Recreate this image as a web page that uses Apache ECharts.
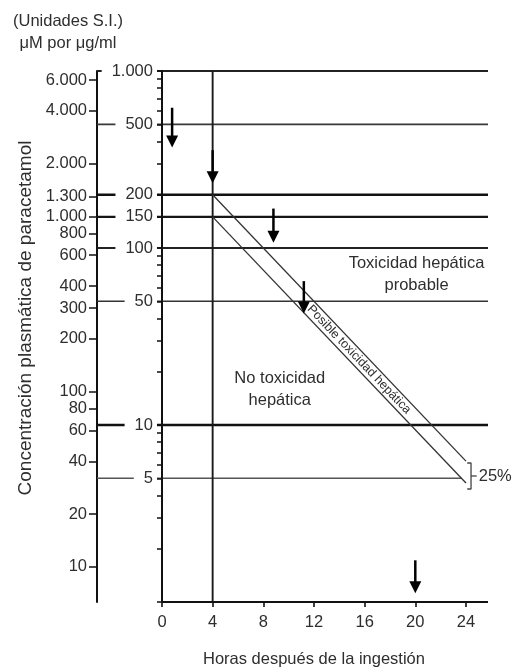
<!DOCTYPE html>
<html><head><meta charset="utf-8">
<script src="https://cdn.jsdelivr.net/npm/echarts@6/dist/echarts.min.js"></script>
<style>html,body{margin:0;padding:0;background:#fff}#c{width:513px;height:671px}</style>
</head><body><div id="c"></div>
<script>
// ---------- data ----------
const hourTicks = [0, 4, 8, 12, 16, 20, 24];
const ugmlLabelTicks = [5, 10, 50, 100, 150, 200, 500, 1000];
const ugmlTicks = [1, 2, 3, 4, 5, 6, 7, 8, 9, 10, 20, 30, 40, 50, 60, 70, 80, 90, 100, 150, 200, 300, 400, 500, 600, 700, 800, 900, 1000];
const umolTicks = [10, 20, 40, 60, 80, 100, 200, 300, 400, 600, 800, 1000, 1300, 2000, 4000, 6000];
const levelLines = [1000, 500, 200, 150, 100, 50, 10, 5];          // μg/ml reference lines
const probableLine = [[4, 200], [24, 6.25]];                        // [hour, μg/ml]
const possibleLine = [[4, 150], [24, 4.7]];                         // [hour, μg/ml]
const startLineHour = 4;
const arrows = [[0.8, 620, 370], [4, 357, 232], [8.8, 167, 107], [11.2, 65, 42.6], [20, 1.72, 1.12]]; // [hour, from, tip]
const bracketValues = [6.1, 4.35];                                  // μg/ml span of the 25% bracket
const yRange = [1, 1000];                                           // μg/ml
const umolRange = [6.3, 6750];                                      // μM scale as drawn alongside

// ---------- layout / style ----------
const X_MIN = -5.13, X_MAX = 25.74;
const FONT = '"Liberation Sans", Arial, Helvetica, sans-serif';
const TXT = '#2e2e2e';
const levelStyle = {
  1000: [2.0, '#222'], 500: [1.7, '#383838'], 200: [2.4, '#111'], 150: [2.3, '#151515'],
  100: [1.9, '#222'], 50: [1.6, '#333'], 10: [2.6, '#111'], 5: [1.6, '#555']
};
const lg = v => Math.log10(v);
const fmt = n => String(n).replace(/\B(?=(\d{3})+(?!\d))/g, '.');

function hourAt(line, v) {
  const [[t0, v0], [t1, v1]] = line;
  return t0 + (t1 - t0) * (lg(v0) - lg(v)) / (lg(v0) - lg(v1));
}
function valueAt(line, t) {
  const [[t0, v0], [t1, v1]] = line;
  return Math.pow(10, lg(v0) + (lg(v1) - lg(v0)) * (t - t0) / (t1 - t0));
}
const lowEnd = Math.min(possibleLine[1][1], probableLine[1][1]);
const highEnd = Math.max(possibleLine[1][1], probableLine[1][1]);

const chart = echarts.init(document.getElementById('c'), null, {renderer: 'canvas'});

const series = [];
levelLines.forEach(v => {
  const end = (v >= lowEnd && v <= highEnd) ? hourAt(possibleLine, v) : X_MAX;
  series.push({
    type: 'line', xAxisIndex: 0, yAxisIndex: 0, z: 1, silent: true, symbol: 'none', clip: false,
    data: [[X_MIN, lg(v)], [end, lg(v)]],
    lineStyle: {width: levelStyle[v][0], color: levelStyle[v][1]}
  });
});
series.push({
  type: 'line', yAxisIndex: 0, z: 1, silent: true, symbol: 'none', clip: false,
  data: [[startLineHour, lg(yRange[0])], [startLineHour, lg(yRange[1])]],
  lineStyle: {width: 1.9, color: '#1a1a1a'}
});
[probableLine, possibleLine].forEach(line => series.push({
  type: 'line', yAxisIndex: 0, z: 1, silent: true, symbol: 'none', clip: false,
  data: line.map(p => [p[0], lg(p[1])]),
  lineStyle: {width: 1.3, color: '#333'}
}));
// x baseline from hour 0
series.push({
  type: 'line', yAxisIndex: 0, z: 1, silent: true, symbol: 'none', clip: false,
  data: [[0, lg(yRange[0])], [X_MAX, lg(yRange[0])]],
  lineStyle: {width: 2, color: '#111'}
});
// bracket 25%
const bx0 = Math.max(probableLine[1][0], possibleLine[1][0]) + 0.1;
const bx1 = bx0 + 0.3, bx2 = bx1 + 0.45;
const bMid = Math.sqrt(bracketValues[0] * bracketValues[1]);
series.push({
  type: 'line', yAxisIndex: 0, z: 1, silent: true, symbol: 'none', clip: false,
  data: [[bx0, lg(bracketValues[0])], [bx1, lg(bracketValues[0])], [bx1, lg(bracketValues[1])], [bx0, lg(bracketValues[1])]],
  lineStyle: {width: 1.3, color: '#444'}
});
series.push({
  type: 'line', yAxisIndex: 0, z: 1, silent: true, symbol: 'none', clip: false,
  data: [[bx1, lg(bMid)], [bx2, lg(bMid)]],
  lineStyle: {width: 1.3, color: '#444'}
});
// arrows
series.push({
  type: 'custom', yAxisIndex: 0, z: 3, silent: true, clip: false,
  data: arrows.map(a => [a[0], lg(a[1]), lg(a[2])]),
  encode: {x: 0, y: [1, 2]},
  renderItem(params, api) {
    const top = api.coord([api.value(0), api.value(1)]);
    const tip = api.coord([api.value(0), api.value(2)]);
    const hw = 6, hh = 12;
    return {type: 'group', children: [
      {type: 'line', shape: {x1: top[0], y1: top[1], x2: tip[0], y2: tip[1] - hh + 1}, style: {stroke: '#000', lineWidth: 2.5}},
      {type: 'polygon', shape: {points: [[tip[0] - hw, tip[1] - hh], [tip[0] + hw, tip[1] - hh], [tip[0], tip[1]]]}, style: {fill: '#000'}}
    ]};
  }
});

const option = {
  animation: false,
  backgroundColor: '#fff',
  textStyle: {fontFamily: FONT},
  grid: {left: 97, right: 25, top: 71, bottom: 69, containLabel: false, outerBoundsMode: 'none'},
  xAxis: {
    type: 'value', min: X_MIN, max: X_MAX, position: 'bottom',
    axisLine: {show: false, onZero: false},
    splitLine: {show: false},
    axisTick: {show: true, customValues: hourTicks, length: 5, inside: false, lineStyle: {color: '#111', width: 1.6}},
    axisLabel: {customValues: hourTicks, margin: 12, color: TXT, fontSize: 16.5, fontFamily: FONT}
  },
  yAxis: [
    {
      type: 'value', min: lg(yRange[0]), max: lg(yRange[1]), position: 'left', z: 5, offset: 0,
      axisLine: {show: true, onZero: false, lineStyle: {color: '#111', width: 2}},
      splitLine: {show: false},
      axisTick: {show: true, customValues: ugmlTicks.map(lg), length: 5, inside: false, lineStyle: {color: '#111', width: 1.5}},
      axisLabel: {
        customValues: ugmlLabelTicks.map(lg), margin: 5, color: TXT, fontSize: 16.5, fontFamily: FONT,
        backgroundColor: '#fff', padding: [1, 4, 1, 10],
        formatter: v => fmt(Math.round(Math.pow(10, v)))
      }
    },
    {
      type: 'value', min: lg(umolRange[0]), max: lg(umolRange[1]), position: 'left', offset: 0,
      axisLine: {show: true, onZero: false, lineStyle: {color: '#111', width: 2}},
      splitLine: {show: false},
      axisTick: {show: true, customValues: umolTicks.map(lg), length: 8, inside: false, lineStyle: {color: '#111', width: 1.5}},
      axisLabel: {
        customValues: umolTicks.map(lg), margin: 10, color: TXT, fontSize: 16.5, fontFamily: FONT,
        formatter: v => fmt(Math.round(Math.pow(10, v)))
      }
    }
  ],
  series
};
chart.setOption(option);

// place the μg/ml axis on hour 0, measured through the x scale
const zeroX = chart.convertToPixel({xAxisIndex: 0}, 0);
const leftX = chart.convertToPixel({xAxisIndex: 0}, X_MIN);
chart.setOption({yAxis: [{offset: -(zeroX - leftX)}, {}]});

// ---------- text annotations placed through the chart's own scales ----------
const P = (h, v) => chart.convertToPixel({seriesIndex: 0}, [h, lg(v)]);
const txt = (x, y, text, size, extra) => Object.assign({
  type: 'text', x, y, silent: true, z: 10,
  style: {text, fill: TXT, font: size + 'px ' + FONT, textAlign: 'center', textVerticalAlign: 'middle', align: 'center', verticalAlign: 'middle', lineHeight: 22}
}, extra || {});

const a0 = P(probableLine[0][0], probableLine[0][1]);
const a1 = P(probableLine[1][0], probableLine[1][1]);
const angle = Math.atan2(a1[1] - a0[1], a1[0] - a0[0]);
const bandHour = 15.55;
const bandVal = Math.sqrt(valueAt(probableLine, bandHour) * valueAt(possibleLine, bandHour));
const bandPt = P(bandHour, bandVal);
const xTitle = P(12, yRange[0]);
const tox = P(20.1, 71);
const notox = P(9.3, 15.8);
const pct = P(bx2, bMid);

chart.setOption({
  graphic: [
    txt(68, 21, '(Unidades S.I.)', 16.5),
    txt(68, 43, 'μM por μg/ml', 16.5),
    txt(26, 318, 'Concentración plasmática de paracetamol', 19, {rotation: Math.PI / 2}),
    txt(xTitle[0], xTitle[1] + 57, 'Horas después de la ingestión', 16.5),
    txt(tox[0], tox[1], 'Toxicidad hepática\nprobable', 16.5),
    txt(notox[0], notox[1], 'No toxicidad\nhepática', 16.5),
    txt(bandPt[0], bandPt[1], 'Posible toxicidad hepática', 12.5, {rotation: -angle}),
    {type: 'text', x: pct[0] + 2, y: pct[1], silent: true, z: 10,
     style: {text: '25%', fill: TXT, font: '16.5px ' + FONT, textAlign: 'left', textVerticalAlign: 'middle', align: 'left', verticalAlign: 'middle'}}
  ]
});
</script>
</body></html>
